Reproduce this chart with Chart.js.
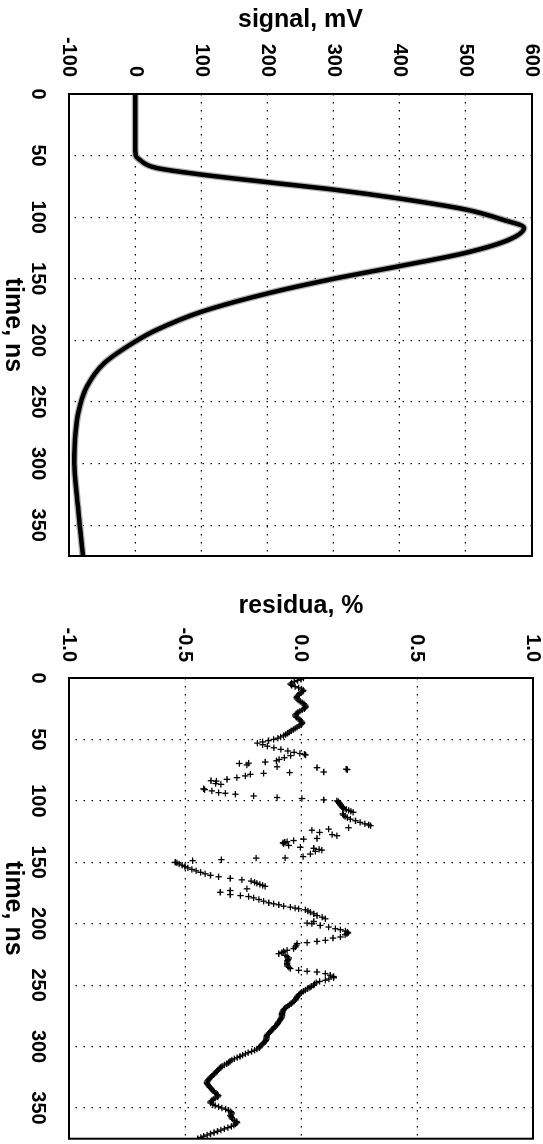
<!DOCTYPE html>
<html>
<head>
<meta charset="utf-8">
<script src="https://cdn.jsdelivr.net/npm/chart.js@4.4.0/dist/chart.umd.min.js"></script>
<style>
  html, body { margin: 0; padding: 0; background: #fff; }
  body { width: 543px; height: 1144px; position: relative; overflow: hidden; }
  /* charts are drawn lying down, then turned a quarter clockwise */
  .turn { position: absolute; left: 0; transform-origin: 0 0; transform: translateX(543px) rotate(90deg); }
</style>
</head>
<body>
<div class="turn" style="top:0;width:575px;height:543px"><canvas id="signalChart" width="575" height="543"></canvas></div>
<div class="turn" style="top:575px;width:569px;height:543px"><canvas id="residChart" width="569" height="543"></canvas></div>
<script>
const timeTicks = [0, 50, 100, 150, 200, 250, 300, 350];
const timeRange = [0, 375];
const signalTicks = [-100, 0, 100, 200, 300, 400, 500, 600];
const residTicks = [-1, -0.5, 0, 0.5, 1];

// signal trace, mV
const timeNs = [0, 10, 20, 30, 40, 50, 53, 60, 65.4, 71.6, 77.6, 84.9, 93.8, 101.9, 108.6, 118.1,
  128.9, 139.7, 150, 161.9, 176.8, 191.6, 201, 218.6, 237.6, 259, 280.8, 299.7, 326.8, 353.8, 375];
const signalMv = [0, 0, 0, 0, 0, 1, 6, 32, 100, 200, 300, 400, 500, 555, 588, 566,
  500, 400, 300, 200, 100, 32, 0, -47, -73, -86, -91, -92, -88, -83, -79];

// residuals, %
const residTimeNs = [
  0, 1, 2, 3, 4, 5, 6, 7, 8, 9,
  10, 11, 12, 13, 14, 15, 16, 17, 18, 19,
  20, 21, 22, 23, 24, 25, 26, 27, 28, 29,
  30, 31, 32, 33, 34, 35, 36, 37, 38, 39,
  40, 41, 42, 43, 44, 45, 46, 47, 48, 49,
  50, 51, 52, 53,
  54.3, 55.5, 56.8, 58.1, 59.4, 60.5, 61.5, 62.1, 62.7,
  63.2, 64.9, 66.3, 67.4, 68.4, 69.3, 69.6, 70.8, 72.3, 73.0, 74.2, 74.6, 76.5, 77.0,
  77.6, 78.4, 79.7, 81.1, 82.5, 83.6, 83.9, 85.9, 86.6, 90.2, 90.9, 91.9, 93.3, 93.8, 94.6, 96.0, 97.3, 98.1, 99.2,
  100.0, 100.6, 101.2, 101.8, 102.5, 103.2, 104.0, 104.8, 105.5, 106.3, 107.0, 107.8, 108.5, 109.3,
  110.6, 111.6, 112.7, 113.7, 114.9, 116.2, 117.5, 118.7, 119.6, 120.2, 121.9,
  123.0, 123.9, 125.7, 127.5, 128.4, 130.6, 131.2, 132.3, 133.2, 133.6, 134.1, 134.8,
  136.3, 137.8, 138.6, 139.5, 140.1, 141.1, 143.3, 145.4, 146.5, 146.6, 147.9, 148.7,
  150.0, 150.5, 151.4, 152.4, 153.5, 154.6, 155.8, 157.0, 158.2, 159.4,
  160.6, 161.8, 163.1, 164.3, 165.3, 166.3, 167.1, 168.0, 168.8, 169.6,
  171.6, 173.0, 174.4, 176.3, 177.1, 177.9, 179.0, 180.3, 181.7, 183.0,
  183.8, 184.6, 185.7, 186.5, 187.3, 187.9, 188.7, 189.7, 190.6, 192.0,
  193.4, 194.7, 196.0, 198.2, 199.5, 200.0, 201.4, 202.7, 204.1, 204.9,
  206.0, 206.8, 207.5,
  208.1, 209.0, 210.8, 211.7, 213.5, 214.4, 215.4, 216.2, 217.5, 218.9,
  220.3, 221.6, 222.6, 223.5, 224.4, 225.7, 226.8, 227.9, 229.0, 230.0,
  231.1, 232.3, 233.4, 234.5, 235.5, 236.5, 237.9, 238.7, 239.3, 240.6,
  241.9, 243.0, 244.0,
  245, 246, 247, 248, 249, 250, 251, 252, 253, 254,
  255, 256, 257, 258, 259, 260, 261, 262, 263, 264,
  265, 266, 267, 268, 269, 270, 271, 272, 273, 274,
  275, 276, 277, 278, 279, 280, 281, 282, 283, 284,
  285, 286, 287, 288, 289, 290, 291, 292, 293, 294,
  295, 296, 297, 298, 299, 300, 301, 302, 303, 304,
  305, 306, 307, 308, 309, 310, 311, 312, 313, 314,
  315, 316, 317, 318, 319, 320, 321, 322, 323, 324,
  325, 326, 327, 328, 329, 330, 331, 332, 333, 334,
  335, 336, 337, 338, 339, 340, 341, 342, 343, 344,
  345, 346, 347, 348, 349, 350, 351, 352, 353, 354,
  355, 356, 357, 358, 359, 360, 361, 362, 363, 364,
  365, 366, 367, 368, 369, 370, 371, 372, 373, 374,
  375
];
const residPct = [
  0.01, 0, -0.015, -0.03, -0.04, -0.045, -0.04, -0.025, -0.01, 0.003,
  0.01, 0.008, 0, -0.008, -0.013, -0.017, -0.018, -0.017, -0.012, -0.004,
  0.005, 0.012, 0.017, 0.02, 0.019, 0.014, 0.005, -0.005, -0.013, -0.02,
  -0.024, -0.024, -0.02, -0.012, -0.005, 0, 0.004, 0.004, 0, -0.008,
  -0.017, -0.025, -0.033, -0.042, -0.05, -0.058, -0.066, -0.075, -0.088, -0.1,
  -0.118, -0.14, -0.165, -0.188,
  -0.165, -0.145, -0.117, -0.087, -0.057, -0.03, -0.005, 0.015, 0.02,
  -0.045, -0.072, -0.094, -0.106, -0.154, -0.226, -0.266, -0.233, -0.103, 0.069, 0.195, 0.2, 0.098, -0.049,
  -0.161, -0.218, -0.24, -0.276, -0.319, -0.388, -0.365, -0.368, -0.345, -0.42, -0.415, -0.384, -0.355, -0.326, -0.283, -0.204, -0.103, 0.004, 0.098,
  0.155, 0.16, 0.162, 0.165, 0.168, 0.17, 0.172, 0.176, 0.18, 0.185, 0.195, 0.205, 0.215, 0.225,
  0.18, 0.183, 0.19, 0.2, 0.213, 0.235, 0.255, 0.275, 0.292, 0.3, 0.205,
  0.119, 0.047, 0.08, 0.134, 0.155, 0.069, 0.011, -0.032, -0.06, -0.07, -0.078, -0.075,
  -0.053, -0.003, 0.055, 0.078, 0.09, 0.062, 0.04, 0.009, -0.068, -0.193, -0.343, -0.467,
  -0.542, -0.535, -0.525, -0.512, -0.5, -0.488, -0.47, -0.452, -0.433, -0.413,
  -0.39, -0.355, -0.305, -0.255, -0.215, -0.2, -0.19, -0.177, -0.165, -0.155,
  -0.233, -0.305, -0.348, -0.305, -0.261, -0.226, -0.204, -0.182, -0.161, -0.139,
  -0.118, -0.096, -0.075, -0.046, -0.025, -0.01, 0.019, 0.03, 0.04, 0.055,
  0.069, 0.091, 0.105, 0.055, 0.026, 0.047, 0.083, 0.119, 0.148, 0.17,
  0.191, 0.2, 0.203,
  0.198, 0.19, 0.17, 0.138, 0.105, 0.069, 0.026, -0.017, -0.02, -0.024,
  -0.032, -0.06, -0.075, -0.082, -0.096, -0.068, -0.06, -0.053, -0.055, -0.058,
  -0.06, -0.06, -0.06, -0.058, -0.052, -0.046, -0.01, 0.026, 0.069, 0.105,
  0.126, 0.14, 0.141,
  0.12, 0.105, 0.08, 0.065, 0.058, 0.055, 0.045, 0.038, 0.028, 0.019,
  0.01, 0.002, -0.005, -0.01, -0.015, -0.018, -0.021, -0.024, -0.03, -0.036,
  -0.042, -0.05, -0.057, -0.064, -0.07, -0.075, -0.078, -0.08, -0.082, -0.082,
  -0.082, -0.083, -0.086, -0.089, -0.092, -0.097, -0.1, -0.103, -0.108, -0.113,
  -0.118, -0.123, -0.128, -0.132, -0.138, -0.143, -0.147, -0.148, -0.149, -0.15,
  -0.152, -0.155, -0.16, -0.166, -0.172, -0.176, -0.18, -0.19, -0.2, -0.213,
  -0.228, -0.24, -0.252, -0.263, -0.275, -0.287, -0.298, -0.306, -0.312, -0.32,
  -0.33, -0.34, -0.347, -0.352, -0.356, -0.362, -0.368, -0.373, -0.377, -0.383,
  -0.389, -0.395, -0.399, -0.403, -0.405, -0.405, -0.402, -0.398, -0.393, -0.388,
  -0.384, -0.379, -0.373, -0.367, -0.361, -0.356, -0.36, -0.37, -0.378, -0.385,
  -0.39, -0.389, -0.38, -0.37, -0.355, -0.341, -0.325, -0.312, -0.303, -0.298,
  -0.3, -0.304, -0.302, -0.299, -0.296, -0.287, -0.278, -0.276, -0.282, -0.289,
  -0.3, -0.315, -0.33, -0.345, -0.36, -0.375, -0.39, -0.405, -0.42, -0.432,
  -0.445
];

const FONT = "'Liberation Sans', Arial, Helvetica, sans-serif";
const tickFont = { family: FONT, size: 20, weight: 'bold', lineHeight: 1 };
const titleFont = { family: FONT, size: 25, weight: 'bold', lineHeight: 1 };

// solid box round the plot area
const framePlugin = {
  id: 'frame',
  afterDraw(chart) {
    const a = chart.chartArea, ctx = chart.ctx;
    ctx.save();
    ctx.strokeStyle = '#000';
    ctx.lineWidth = 2;
    ctx.strokeRect(a.left, a.top, a.right - a.left, a.bottom - a.top);
    ctx.restore();
  }
};

// gap between labels and plot is done with invisible tick marks,
// so chart.js doesn't add it to the outer padding too
function gridFor(gap) {
  return { color: '#000', lineWidth: 1.2, drawTicks: true, tickLength: gap, tickColor: 'rgba(0,0,0,0)' };
}

function makeOptions(o) {
  return {
    responsive: false,
    animation: false,
    events: [],
    layout: { padding: { top: o.padTop, right: o.padRight, left: 0, bottom: 0 } },
    plugins: { legend: { display: false }, tooltip: { enabled: false } },
    scales: {
      x: {
        type: 'linear',
        min: timeRange[0],
        max: timeRange[1],
        afterBuildTicks: s => { s.ticks = timeTicks.map(v => ({ value: v })); },
        afterFit: s => { s.height = o.xHeight; },
        grid: gridFor(21),
        border: { display: false, dash: [1.5, 6.5] },
        ticks: { color: '#000', padding: 0, maxRotation: 0, font: tickFont },
        title: { display: true, text: 'time, ns', color: '#000', padding: { top: 0, bottom: 0 }, font: titleFont }
      },
      y: {
        type: 'linear',
        min: o.ticks[0],
        max: o.ticks[o.ticks.length - 1],
        afterBuildTicks: s => { s.ticks = o.ticks.map(v => ({ value: v })); },
        afterFit: s => { s.width = o.yWidth; },
        grid: gridFor(o.yGap),
        border: { display: false, dash: [1.5, 6.5] },
        ticks: { color: '#000', padding: 0, font: tickFont, callback: o.fmt },
        title: { display: true, text: o.title, color: '#000', padding: { top: o.titlePad, bottom: 0 }, font: titleFont }
      }
    }
  };
}

new Chart(document.getElementById('signalChart'), {
  type: 'line',
  data: {
    datasets: [{
      data: timeNs.map((t, i) => ({ x: t, y: signalMv[i] })),
      borderColor: '#000',
      borderWidth: 4.5,
      pointRadius: 0,
      cubicInterpolationMode: 'monotone',
      order: 0
    }, {
      data: timeNs.map((t, i) => ({ x: t, y: signalMv[i] })),
      borderColor: '#b4b4b4',
      borderWidth: 7,
      pointRadius: 0,
      cubicInterpolationMode: 'monotone',
      order: 1
    }]
  },
  options: makeOptions({
    ticks: signalTicks, title: 'signal, mV', fmt: v => String(v),
    yWidth: 94, yGap: 17, titlePad: 8, xHeight: 69, padTop: 11, padRight: 19
  }),
  plugins: [framePlugin]
});

new Chart(document.getElementById('residChart'), {
  type: 'scatter',
  data: {
    datasets: [{
      data: residTimeNs.map((t, i) => ({ x: t, y: residPct[i] })),
      pointStyle: 'cross',
      pointRadius: 3.2,
      borderColor: '#000',
      borderWidth: 1.3,
      showLine: false
    }]
  },
  options: makeOptions({
    ticks: residTicks, title: 'residua, %', fmt: v => Number(v).toFixed(1),
    yWidth: 103, yGap: 16, titlePad: 19, xHeight: 69, padTop: 10, padRight: 3
  }),
  plugins: [framePlugin]
});
</script>
</body>
</html>
